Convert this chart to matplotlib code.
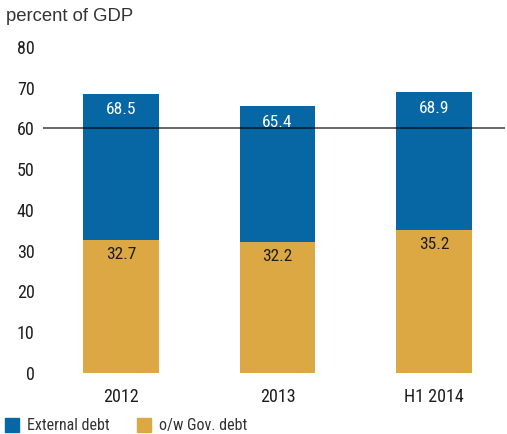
import matplotlib
matplotlib.use("Agg")
import matplotlib.pyplot as plt
from matplotlib.patches import Patch

categories = ["2012", "2013", "H1 2014"]
external_debt = [68.5, 65.4, 68.9]
gov_debt = [32.7, 32.2, 35.2]
yticks = [0, 10, 20, 30, 40, 50, 60, 70, 80]
threshold = 60

BLUE = "#0767A5"
GOLD = "#DBA844"
NARROW = ["Roboto Condensed", "DejaVu Sans"]
TXT = "#1e1e1e"

fig = plt.figure(figsize=(5.07, 4.34), dpi=100)
ax = fig.add_axes([0.0848, 0.1406, 0.9112, 0.7511])

x = list(range(len(categories)))
w = 0.486
ax.bar(x, external_debt, width=w, color=BLUE, zorder=2)
ax.bar(x, gov_debt, width=w, color=GOLD, zorder=3)
ax.axhline(threshold, color="black", lw=1.4, alpha=0.6, zorder=4)

for xi, e, g in zip(x, external_debt, gov_debt):
    ax.text(xi, e - 3.9, f"{e:.1f}", ha="center", va="center", color="white",
            fontsize=12.5, family=NARROW, zorder=5)
    ax.text(xi, g - 3.7, f"{g:.1f}", ha="center", va="center", color=TXT,
            fontsize=12.5, family=NARROW, zorder=5)

ax.set_xlim(-0.5, 2.455)
ax.set_ylim(0, 80)
ax.set_yticks(yticks)
ax.set_yticklabels([str(t) for t in yticks], family=NARROW, fontsize=13, color=TXT)
ax.set_xticks(x)
ax.set_xticklabels(categories, family=NARROW, fontsize=13, color=TXT)
ax.tick_params(axis="y", length=0, pad=6)
ax.tick_params(axis="x", length=0, pad=11)
for s in ax.spines.values():
    s.set_visible(False)

fig.text(0.012, 0.962, "percent of GDP", fontsize=13.3, color="#333333",
         family=["Liberation Sans", "DejaVu Sans"], ha="left", va="center")

handles = [Patch(color=BLUE, label="External debt"), Patch(color=GOLD, label="o/w Gov. debt")]
leg = fig.legend(handles=handles, loc="lower left", bbox_to_anchor=(0.008, 0.0), ncol=2,
                 frameon=False, prop={"family": NARROW, "size": 11.5},
                 handlelength=0.88, handleheight=0.95, handletextpad=0.5, columnspacing=1.7,
                 borderaxespad=0.0, borderpad=0.05)
for t in leg.get_texts():
    t.set_color("#333333")

fig.savefig("out.png", dpi=100)
